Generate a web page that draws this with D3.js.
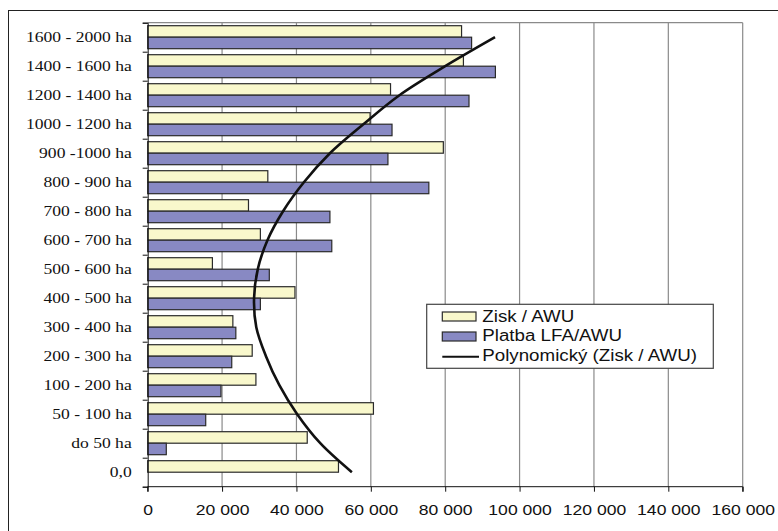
<!DOCTYPE html>
<html>
<head>
<meta charset="utf-8">
<script src="https://cdn.jsdelivr.net/npm/d3@7"></script>
<style>
  html, body { margin: 0; padding: 0; background: #fff; }
  svg { display: block; }
</style>
</head>
<body>
<svg id="chart" width="778" height="531"></svg>
<script>
const categories = ["1600 - 2000 ha","1400 - 1600 ha","1200 - 1400 ha","1000 - 1200 ha","900 -1000 ha","800 - 900 ha","700 - 800 ha","600 - 700 ha","500 - 600 ha","400 - 500 ha","300 - 400 ha","200 - 300 ha","100 - 200 ha","50 - 100 ha","do 50 ha","0,0"];
const ziskAWU = [84400, 84900, 65300, 59800, 79500, 32300, 27100, 30300, 17400, 39600, 22900, 28100, 29100, 60700, 42900, 51300];
const platbaLFA = [87100, 93500, 86400, 65700, 64600, 75600, 49000, 49500, 32700, 30300, 23700, 22600, 19700, 15600, 5000, 0];
const trendZisk = [93400, 80000, 67700, 58000, 49000, 42000, 36400, 32200, 29600, 28600, 29200, 31800, 35400, 40200, 46400, 54900];
const xTicks = [0, 20000, 40000, 60000, 80000, 100000, 120000, 140000, 160000];
const seriesNames = ["Zisk / AWU", "Platba LFA/AWU", "Polynomický (Zisk / AWU)"];

(function() {
const svg = d3.select("#chart");
const pLeft = 147.7, pRight = 742.7, pTop = 22.7, pBottom = 486.7;
const STRETCH = 1.17;

// outer chart border
svg.append("rect").attr("x", 8.5).attr("y", 10.5).attr("width", 900).attr("height", 700)
  .attr("fill", "none").attr("stroke", "#222").attr("stroke-width", 1);

const x = d3.scaleLinear().domain([0, 160000]).range([pLeft, pRight]);
const y = d3.scaleBand().domain(categories).range([pTop, pBottom]).paddingInner(0.207).paddingOuter(0.1035);
const yIdx = d3.scaleLinear().domain([0, categories.length]).range([pTop, pBottom]);

// gridlines
svg.append("g").selectAll("line").data(xTicks.slice(1)).join("line")
  .attr("x1", d => x(d)).attr("x2", d => x(d)).attr("y1", pTop).attr("y2", pBottom)
  .attr("stroke", "#8a8a8a").attr("stroke-width", 1.2);
svg.append("line").attr("x1", pLeft).attr("x2", pRight).attr("y1", pTop).attr("y2", pTop)
  .attr("stroke", "#8a8a8a").attr("stroke-width", 1.2);

const bw = y.bandwidth() / 2;
const g = svg.append("g");
g.selectAll("rect.z").data(categories).join("rect").attr("class", "z")
  .attr("x", x(0)).attr("y", d => y(d))
  .attr("width", (d, i) => x(ziskAWU[i]) - x(0)).attr("height", bw)
  .attr("fill", "#f9f8cc").attr("stroke", "#2a2a2a").attr("stroke-width", 1.2);
g.selectAll("rect.p").data(categories.filter((d, i) => platbaLFA[i] > 0)).join("rect").attr("class", "p")
  .attr("x", x(0)).attr("y", d => y(d) + bw)
  .attr("width", d => x(platbaLFA[categories.indexOf(d)]) - x(0)).attr("height", bw)
  .attr("fill", "#8889c3").attr("stroke", "#2a2a2a").attr("stroke-width", 1.2);

// trend line
const line = d3.line().x(d => x(d.v)).y(d => y(d.c) + y.bandwidth() / 2).curve(d3.curveCatmullRom);
svg.append("path").datum(categories.map((c, i) => ({c, v: trendZisk[i]})))
  .attr("d", line).attr("fill", "none").attr("stroke", "#111").attr("stroke-width", 2.6);

// axes
const fmt = d3.formatLocale({decimal: ",", thousands: " ", grouping: [3], currency: ["", ""]}).format(",d");
const xAxis = svg.append("g").attr("transform", `translate(0,${pBottom})`)
  .call(d3.axisBottom(x).tickValues(xTicks).tickSize(5).tickPadding(13).tickFormat(fmt));
xAxis.selectAll("text").attr("font-family", "Liberation Sans, Arial, sans-serif").attr("font-size", 15).attr("fill", "#111");
xAxis.selectAll("line, path").attr("stroke", "#111");
xAxis.select(".domain").attr("d", `M${pLeft},5V0H${pRight}V5`);

const yTicksAxis = svg.append("g").attr("transform", `translate(${pLeft},0)`)
  .call(d3.axisLeft(yIdx).ticks(categories.length).tickSize(5).tickFormat(""));
yTicksAxis.selectAll("line, path").attr("stroke", "#111");

const yLab = svg.append("g").attr("transform", `translate(${pLeft},0)`)
  .call(d3.axisLeft(y).tickSize(0).tickPadding(16));
yLab.select(".domain").remove();
yLab.selectAll("text").attr("font-family", "Liberation Serif, Times New Roman, serif").attr("font-size", 15).attr("fill", "#111");

// legend
const lx = 426.7, ly = 304.3;
const leg = svg.append("g");
leg.append("rect").attr("x", lx).attr("y", ly).attr("width", 286.6).attr("height", 64)
  .attr("fill", "#fff").attr("stroke", "#444").attr("stroke-width", 1.2);
const legColors = ["#f9f8cc", "#8889c3"];
[0, 1].forEach(i => {
  leg.append("rect").attr("x", 442.3).attr("y", 312 + i * 20).attr("width", 33.7).attr("height", 9)
    .attr("fill", legColors[i]).attr("stroke", "#2a2a2a").attr("stroke-width", 1.2);
});
leg.append("line").attr("x1", 442.3).attr("x2", 479).attr("y1", 356.7).attr("y2", 356.7)
  .attr("stroke", "#111").attr("stroke-width", 2);
seriesNames.forEach((s, i) => {
  leg.append("text").attr("x", 482.3).attr("y", 321.7 + i * 19.6).text(s)
    .attr("font-family", "Liberation Sans, Arial, sans-serif").attr("font-size", 16).attr("fill", "#111");
});

// horizontal stretch of text to match reference aspect
svg.selectAll("text").each(function() {
  const len = this.getComputedTextLength();
  if (len > 0) d3.select(this).attr("textLength", len * STRETCH).attr("lengthAdjust", "spacingAndGlyphs");
});
})();
</script>
</body>
</html>
